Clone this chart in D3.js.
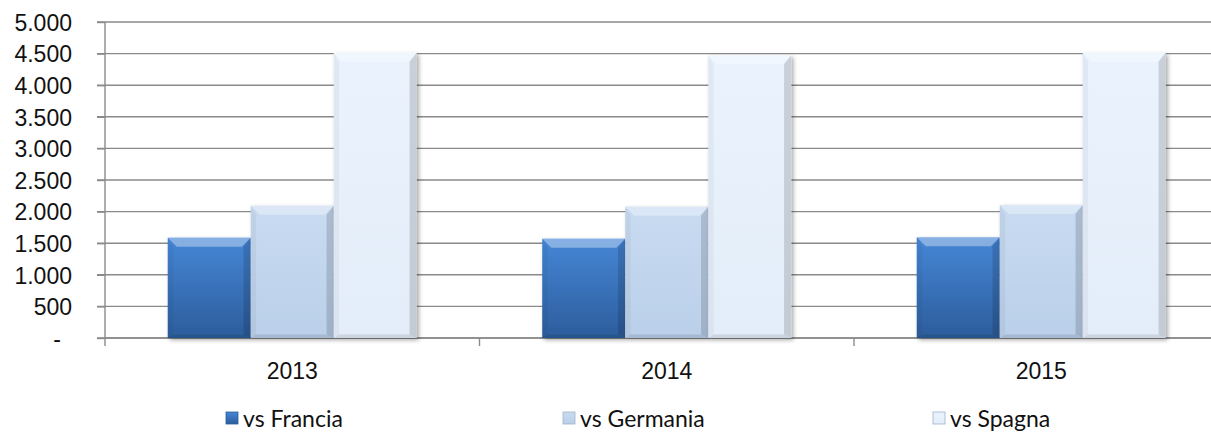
<!DOCTYPE html>
<html>
<head>
<meta charset="utf-8">
<script src="https://cdn.jsdelivr.net/npm/d3@7"></script>
<style>
  html, body { margin: 0; padding: 0; background: #fff; }
  svg { display: block; font-family: Lato, "Open Sans", sans-serif; }
</style>
</head>
<body>
<svg id="chart"></svg>
<script>
// data
var years = ["2013", "2014", "2015"]
var seriesNames = ["vs Francia", "vs Germania", "vs Spagna"]
var francia = [1587, 1571, 1593]
var germania = [2093, 2078, 2104]
var spagna = [4514, 4473, 4514]
var yTicks = [0, 500, 1000, 1500, 2000, 2500, 3000, 3500, 4000, 4500, 5000]

var width = 1211
var height = 433
var margin = {top: 22, left: 105, bottom: 95}

// base colours (top of gradient, bottom of gradient) per series
var colors = [
  ["#4686D6", "#2C5D9C"],
  ["#C8DBF1", "#BACFE9"],
  ["#EAF3FD", "#E3EDF9"]
]

var table = years.map((y, i) => ({year: y, values: [francia[i], germania[i], spagna[i]]}))

var svg = d3.select("#chart")
  .attr("width", width)
  .attr("height", height)

var defs = svg.append("defs")
colors.forEach((c, i) => {
  var g = defs.append("linearGradient").attr("id", "grad" + i)
    .attr("x1", 0).attr("y1", 0).attr("x2", 0).attr("y2", 1)
  g.append("stop").attr("offset", "0%").attr("stop-color", c[0])
  g.append("stop").attr("offset", "100%").attr("stop-color", c[1])
})
defs.append("filter").attr("id", "shadow")
  .attr("x", "-10%").attr("y", "-10%").attr("width", "130%").attr("height", "130%")
  .append("feDropShadow")
    .attr("dx", 2).attr("dy", 2).attr("stdDeviation", 2)
    .attr("flood-color", "#000").attr("flood-opacity", 0.35)

// the plot runs past the right edge of the picture, as in the original
var x0 = d3.scaleBand()
  .domain(years)
  .range([margin.left, 1228.5])
  .paddingInner(0.335)
  .paddingOuter(0.1675)

var x1 = d3.scaleBand()
  .domain(d3.range(seriesNames.length))
  .range([0, x0.bandwidth()])

var y = d3.scaleLinear()
  .domain([0, 5000])
  .range([338, margin.top])

var itLocale = d3.formatLocale({decimal: ",", thousands: ".", grouping: [3], currency: ["", ""]})
var fmt = itLocale.format(",")

// gridlines
svg.append("g")
  .selectAll("line")
  .data(yTicks)
  .join("line")
    .attr("x1", margin.left - 8)
    .attr("x2", width)
    .attr("y1", d => y(d))
    .attr("y2", d => y(d))
    .attr("stroke", "#8a8a8a")
    .attr("stroke-width", 1.4)

// y axis
var yAxis = svg.append("g")
  .attr("transform", `translate(${margin.left},0)`)
  .call(d3.axisLeft(y).tickValues(yTicks).tickSize(8).tickPadding(25)
    .tickFormat(d => d === 0 ? "-" : fmt(d)))
yAxis.select(".domain").attr("d", `M0,${margin.top}V346`).attr("stroke", "#8a8a8a").attr("stroke-width", 1.4)
yAxis.selectAll(".tick line").attr("stroke", "#8a8a8a").attr("stroke-width", 1.4)
yAxis.selectAll("text")
  .attr("font-size", "23px")
  .attr("fill", "#111")
  .attr("dy", "0.36em")
  .attr("dx", d => d === 0 ? -11 : 0)

// x axis
var xAxis = svg.append("g")
  .attr("transform", `translate(0,${y(0)})`)
  .call(d3.axisBottom(x0).tickSize(0).tickPadding(25))
xAxis.select(".domain").attr("d", `M${margin.left},0H${width}`).attr("stroke", "#8a8a8a").attr("stroke-width", 1.4)
xAxis.selectAll("text").attr("font-size", "23px").attr("fill", "#111")

// category separator ticks
var step = x0.step()
svg.append("g")
  .selectAll("line")
  .data(years.slice(1))
  .join("line")
    .attr("x1", d => x0(d) - step * x0.paddingInner() / 2)
    .attr("x2", d => x0(d) - step * x0.paddingInner() / 2)
    .attr("y1", y(0))
    .attr("y2", y(0) + 8)
    .attr("stroke", "#8a8a8a")
    .attr("stroke-width", 1.4)

// bars with a bevel look
var bev = 9
var groups = svg.append("g")
  .selectAll("g")
  .data(table)
  .join("g")
    .attr("transform", d => `translate(${x0(d.year)},0)`)

var bars = groups.selectAll("g")
  .data(d => d.values.map((v, i) => ({i: i, v: v})))
  .join("g")
    .attr("transform", d => `translate(${x1(d.i)},${y(d.v)})`)

bars.append("rect")
  .attr("width", x1.bandwidth())
  .attr("height", d => y(0) - y(d.v))
  .attr("fill", d => `url(#grad${d.i})`)
  .attr("filter", "url(#shadow)")

function poly(pts) { return pts.map(p => p.join(",")).join(" ") }
var w = x1.bandwidth()
// top bevel
bars.append("polygon")
  .attr("points", d => poly([[0, 0], [w, 0], [w - bev, bev], [bev, bev]]))
  .attr("fill", "#fff").attr("fill-opacity", 0.35)
// left bevel
bars.append("polygon")
  .attr("points", d => { var h = y(0) - y(d.v); return poly([[0, 0], [bev * 0.6, bev], [bev * 0.6, h - bev * 0.4], [0, h]]) })
  .attr("fill", "#000").attr("fill-opacity", 0.04)
// right bevel
bars.append("polygon")
  .attr("points", d => { var h = y(0) - y(d.v); return poly([[w, 0], [w - bev * 0.8, bev], [w - bev * 0.8, h - bev * 0.4], [w, h]]) })
  .attr("fill", "#000").attr("fill-opacity", 0.14)
// bottom bevel
bars.append("polygon")
  .attr("points", d => { var h = y(0) - y(d.v); return poly([[0, h], [bev * 0.6, h - bev * 0.4], [w - bev * 0.8, h - bev * 0.4], [w, h]]) })
  .attr("fill", "#000").attr("fill-opacity", 0.1)

bars.append("title").text(d => fmt(d.v))

// legend
var legendX = d3.scalePoint().domain(seriesNames).range([226, 933])
var legendItems = [226, 563, 933]
var legend = svg.append("g")
  .selectAll("g")
  .data(seriesNames)
  .join("g")
    .attr("transform", (d, i) => `translate(${legendItems[i]},412)`)

legend.append("rect")
  .attr("width", 12).attr("height", 12)
  .attr("fill", (d, i) => `url(#grad${i})`)
  .attr("stroke", (d, i) => i === 0 ? "#2C5D9C" : "#9fb2c9")
  .attr("stroke-width", 0.8)
legend.append("text")
  .attr("x", 17)
  .attr("y", 15)
  .attr("font-size", "23px")
  .attr("fill", "#111")
  .text(d => d)
</script>
</body>
</html>
